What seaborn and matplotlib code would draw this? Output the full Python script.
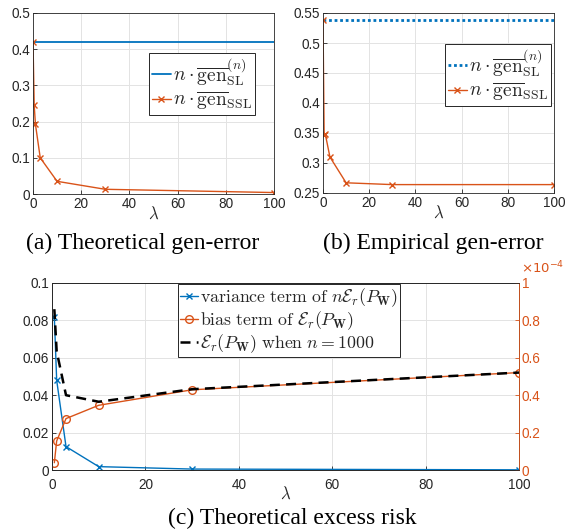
import numpy as np
import pandas as pd
import seaborn as sns
import matplotlib
matplotlib.use("Agg")
import matplotlib.pyplot as plt

# ---------------- data ----------------
lam_a = [0, 0.5, 1, 3, 10, 30, 100]
sl_a_x = [0, 100]
sl_a = [0.42, 0.42]
ssl_a = [0.42, 0.245, 0.193, 0.100, 0.035, 0.013, 0.004]

lam_b = [0, 0.5, 1, 3, 10, 30, 100]
sl_b_x = [0, 100]
sl_b = [0.538, 0.538]
ssl_b = [0.538, 0.346, 0.348, 0.310, 0.267, 0.264, 0.264]

lam_c = [0.5, 1, 3, 10, 30, 100]
variance_c = [0.0818, 0.048, 0.0125, 0.0018, 0.0005, 0.0001]
bias_c = [0.039e-4, 0.155e-4, 0.275e-4, 0.346e-4, 0.429e-4, 0.521e-4]
excess_c = [0.86e-4, 0.635e-4, 0.40e-4, 0.365e-4, 0.432e-4, 0.521e-4]

right_ticks = [0, 0.2e-4, 0.4e-4, 0.6e-4, 0.8e-4, 1e-4]
right_ticklabels = ["0", "0.2", "0.4", "0.6", "0.8", "1"]

captions = ["(a) Theoretical gen-error", "(b) Empirical gen-error", "(c) Theoretical excess risk"]

BLUE = "#0072BD"
ORANGE = "#D95319"
AX = "#262626"
TICK = 9.8

sns.set_theme(style="whitegrid")
plt.rcParams["font.family"] = ["Liberation Sans", "DejaVu Sans"]
plt.rcParams["mathtext.fontset"] = "cm"
plt.rcParams.update({
    "axes.edgecolor": AX, "axes.linewidth": 0.6, "grid.color": "#e3e3e3",
    "grid.linewidth": 0.7, "xtick.color": AX, "ytick.color": AX,
    "xtick.direction": "in", "ytick.direction": "in",
    "xtick.major.size": 3, "ytick.major.size": 3,
    "xtick.major.width": 0.6, "ytick.major.width": 0.6,
    "xtick.bottom": True, "ytick.left": True,
    "xtick.labelsize": TICK, "ytick.labelsize": TICK,
})

W, H = 566, 531
fig = plt.figure(figsize=(W / 100, H / 100), dpi=100)

def box(l, t, r, b):
    return [l / W, (H - b) / H, (r - l) / W, (b - t) / H]

def style(ax):
    for s in ax.spines.values():
        s.set_visible(True)
        s.set_color(AX)
        s.set_linewidth(0.6)
    ax.tick_params(axis="both", which="both", pad=2, labelcolor=AX)
    ax.grid(True)

lab_sl = r"$n\cdot\overline{\mathrm{gen}}_{\mathrm{SL}}^{(n)}$"
lab_ssl = r"$n\cdot\overline{\mathrm{gen}}_{\mathrm{SSL}}$"

def gen_legend(ax, anchor, hl):
    leg = ax.legend(loc="upper right", bbox_to_anchor=anchor, borderaxespad=0,
                    fontsize=14, fancybox=False, framealpha=1, edgecolor=AX,
                    handlelength=hl, handletextpad=0.1, borderpad=0.15,
                    labelspacing=0.1)
    leg.get_frame().set_linewidth(0.7)

# ---------- (a) ----------
axa = fig.add_axes(box(33, 13, 274, 194))
sns.lineplot(x=sl_a_x, y=sl_a, ax=axa, color=BLUE, lw=1.3, label=lab_sl)
sns.lineplot(x=lam_a, y=ssl_a, ax=axa, color=ORANGE, lw=1.0, marker="x",
             markersize=4, markeredgewidth=1.0, markeredgecolor=ORANGE, label=lab_ssl)
axa.set_xlim(0, 100); axa.set_ylim(0, 0.5)
axa.set_xticks(np.arange(0, 101, 20)); axa.set_yticks(np.arange(0, 0.51, 0.1))
axa.set_yticklabels(["0", "0.1", "0.2", "0.3", "0.4", "0.5"])
axa.set_xlabel(r"$\lambda$", fontsize=12, labelpad=-4)
axa.set_ylabel("")
style(axa)
gen_legend(axa, (0.921, 0.779), 1.0)

# ---------- (b) ----------
axb = fig.add_axes(box(323, 13, 554, 193))
sns.lineplot(x=sl_b_x, y=sl_b, ax=axb, color=BLUE, lw=2.0, linestyle=(0, (1, 1)), label=lab_sl)
sns.lineplot(x=lam_b, y=ssl_b, ax=axb, color=ORANGE, lw=1.0, marker="x",
             markersize=4, markeredgewidth=1.0, markeredgecolor=ORANGE, label=lab_ssl)
axb.set_xlim(0, 100); axb.set_ylim(0.25, 0.55)
axb.set_xticks(np.arange(0, 101, 20)); axb.set_yticks(np.arange(0.25, 0.551, 0.05))
axb.set_yticklabels(["0.25", "0.3", "0.35", "0.4", "0.45", "0.5", "0.55"])
axb.set_xlabel(r"$\lambda$", fontsize=12, labelpad=-4)
axb.set_ylabel("")
style(axb)
gen_legend(axb, (0.987, 0.828), 1.0)

# ---------- (c) ----------
axc = fig.add_axes(box(52, 283, 519, 470))
sns.lineplot(x=lam_c, y=variance_c, ax=axc, color=BLUE, lw=1.0, marker="x",
             markersize=4, markeredgewidth=1.0, markeredgecolor=BLUE,
             label=r"$\mathrm{variance\ term\ of}\ n\mathcal{E}_r(P_{\mathbf{W}})$")
axc.set_xlim(0, 100); axc.set_ylim(0, 0.1)
axc.set_xticks(np.arange(0, 101, 20)); axc.set_yticks(np.arange(0, 0.101, 0.02))
axc.set_yticklabels(["0", "0.02", "0.04", "0.06", "0.08", "0.1"])
axc.set_xlabel(r"$\lambda$", fontsize=12, labelpad=-5)
axc.set_ylabel("")
style(axc)
axc.tick_params(axis="x", pad=6)
h1, l1 = axc.get_legend_handles_labels()
axc.get_legend().remove()

ax2 = axc.twinx()
sns.lineplot(x=lam_c, y=bias_c, ax=ax2, color=ORANGE, lw=1.0, marker="o",
             markersize=5.5, markerfacecolor="none", markeredgewidth=1.0,
             markeredgecolor=ORANGE,
             label=r"$\mathrm{bias\ term\ of}\ \mathcal{E}_r(P_{\mathbf{W}})$")
sns.lineplot(x=lam_c, y=excess_c, ax=ax2, color="black", lw=1.8, linestyle=(0, (4, 2.5)),
             label=r"$\mathcal{E}_r(P_{\mathbf{W}})\ \mathrm{when}\ n=1000$")
ax2.set_ylim(0, 1e-4)
ax2.set_yticks(right_ticks)
ax2.set_yticklabels(right_ticklabels)
ax2.grid(False)
ax2.set_ylabel("")
for s in ax2.spines.values():
    s.set_visible(True); s.set_color(AX); s.set_linewidth(0.6)
ax2.spines["right"].set_color(ORANGE)
ax2.tick_params(axis="y", colors=ORANGE, direction="in", right=True, pad=2, labelsize=TICK)
ax2.text(1.004, 1.05, r"$\times10^{-4}$", transform=ax2.transAxes, ha="left",
         va="baseline", color=ORANGE, fontsize=9.5, math_fontfamily="dejavusans")
h2, l2 = ax2.get_legend_handles_labels()
ax2.get_legend().remove()
leg = ax2.legend(h1 + h2, l1 + l2, loc="upper left", bbox_to_anchor=(0.27, 0.995),
                 borderaxespad=0, fontsize=12.8, fancybox=False, framealpha=1,
                 edgecolor=AX, handlelength=1.0, handletextpad=0.1, borderpad=0.12,
                 labelspacing=0.02)
leg.get_frame().set_linewidth(0.7)

# ---------- captions ----------
serif = ["Liberation Serif", "DejaVu Serif"]
fig.text(143 / W, 1 - 243 / H, captions[0], ha="center", va="center",
         family=serif, fontsize=17, color="black")
fig.text(433 / W, 1 - 243 / H, captions[1], ha="center", va="center",
         family=serif, fontsize=17, color="black")
fig.text(292 / W, 1 - 518 / H, captions[2], ha="center", va="center",
         family=serif, fontsize=17, color="black")

fig.savefig("out.png", dpi=100, facecolor="white")
